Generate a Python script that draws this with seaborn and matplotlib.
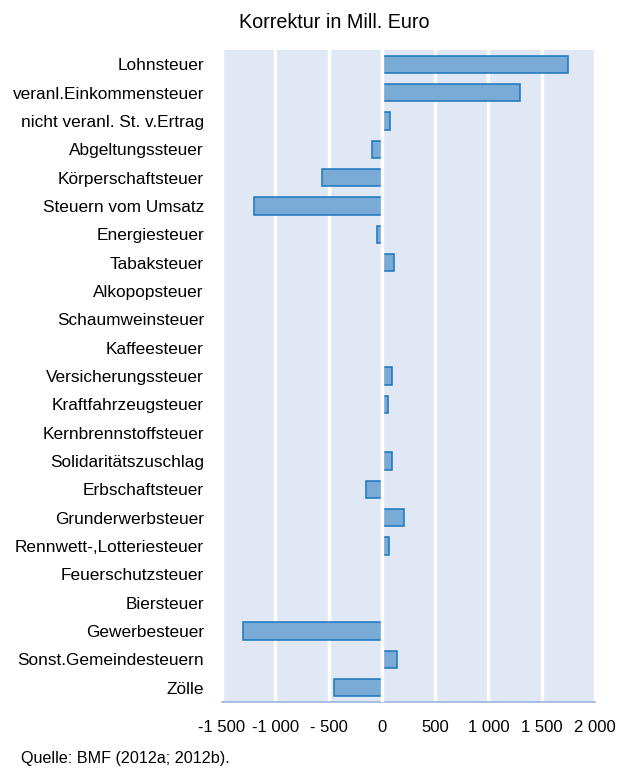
import numpy as np
import pandas as pd
import matplotlib
matplotlib.use('Agg')
import matplotlib.pyplot as plt
import seaborn as sns

# Korrektur je Steuerart (Mill. Euro)
steuern = ['Lohnsteuer', 'veranl.Einkommensteuer', 'nicht veranl. St. v.Ertrag',
           'Abgeltungssteuer', 'Körperschaftsteuer', 'Steuern vom Umsatz',
           'Energiesteuer', 'Tabaksteuer', 'Alkopopsteuer', 'Schaumweinsteuer',
           'Kaffeesteuer', 'Versicherungssteuer', 'Kraftfahrzeugsteuer',
           'Kernbrennstoffsteuer', 'Solidaritätszuschlag', 'Erbschaftsteuer',
           'Grunderwerbsteuer', 'Rennwett-,Lotteriesteuer', 'Feuerschutzsteuer',
           'Biersteuer', 'Gewerbesteuer', 'Sonst.Gemeindesteuern', 'Zölle']
korrektur = [1750, 1300, 80, -95, -560, -1200, -45, 110, 0, 3,
             0, 95, 55, 0, 95, -145, 210, 65, 0, 0, -1300, 140, -450]

xticks = [-1500, -1000, -500, 0, 500, 1000, 1500, 2000]
xlabels = ['-1 500', '-1 000', '- 500', '0', '500', '1 000', '1 500', '2 000']

BG = '#e1e8f5'
BAR = '#7aaad6'
EDGE = '#1a76bd'
SPINE = '#9db3de'

df = pd.DataFrame({'Steuer': steuern, 'Korrektur': korrektur})

sns.set_style('white', {'axes.facecolor': BG, 'text.color': 'black',
                        'xtick.color': 'black', 'ytick.color': 'black'})
plt.rcParams['font.family'] = ['Liberation Sans', 'DejaVu Sans']

fig = plt.figure(figsize=(6.27, 7.70), dpi=100)
ax = fig.add_axes([222 / 627, 1 - 702 / 770, (595 - 222) / 627, (702 - 50) / 770])

sns.barplot(data=df, y='Steuer', x='Korrektur', orient='h', color=BAR,
            saturation=1, edgecolor=EDGE, linewidth=1.1, width=0.61, ax=ax)

ax.set_xlim(-1500, 2000)
ax.set_ylim(len(steuern) - 0.5, -0.5)
ax.set_xticks(xticks)
ax.set_xticklabels(xlabels, fontsize=12)
ax.tick_params(axis='x', direction='out', length=5, width=1, color=SPINE,
               labelcolor='black', pad=8)
ax.tick_params(axis='y', length=0, pad=13, labelsize=12.4, labelcolor='black')
ax.set_xlabel('')
ax.set_ylabel('')

ax.xaxis.grid(True, color='white', linewidth=2.4)
ax.set_axisbelow(True)
ax.axvline(0, color='white', linewidth=2.4, zorder=5)

for s in ['top', 'right', 'left']:
    ax.spines[s].set_visible(False)
ax.spines['bottom'].set_color(SPINE)
ax.spines['bottom'].set_linewidth(1.2)

fig.text(334 / 627, 1 - 22 / 770, 'Korrektur in Mill. Euro', ha='center', va='center',
         fontsize=14.2, color='black')
fig.text(21 / 627, 1 - 758 / 770, 'Quelle: BMF (2012a; 2012b).', ha='left', va='center',
         fontsize=11.6, color='black')

fig.savefig('out.png', dpi=100)
